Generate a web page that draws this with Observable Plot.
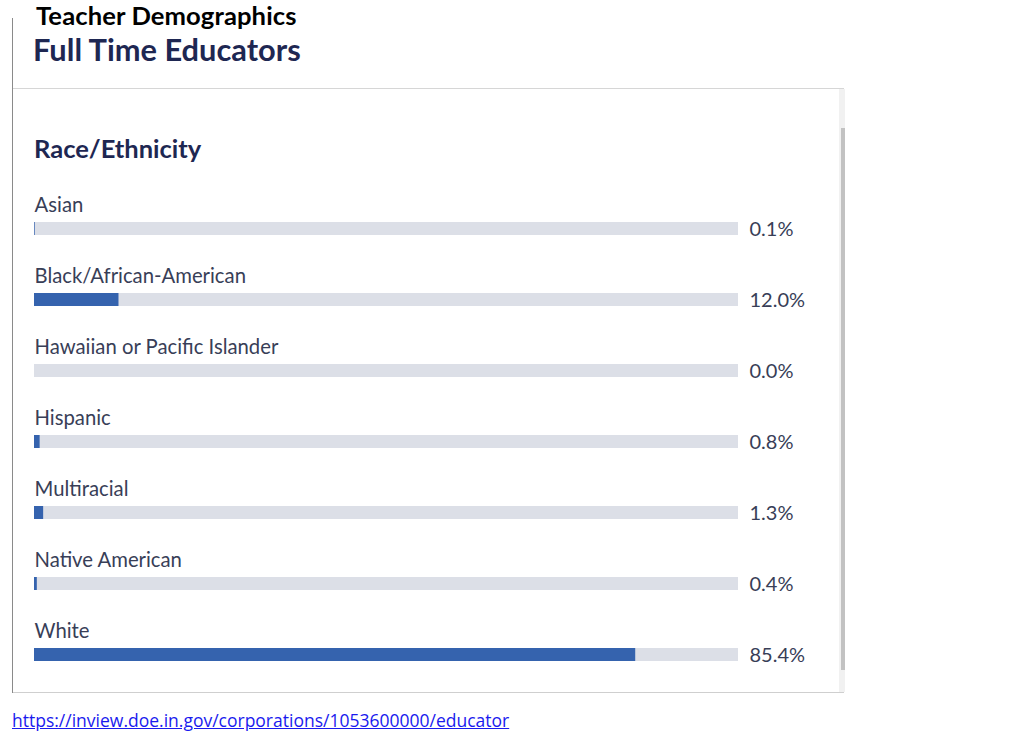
<!DOCTYPE html>
<html><head><meta charset="utf-8">
<script src="https://cdn.jsdelivr.net/npm/d3@7"></script>
<script src="https://cdn.jsdelivr.net/npm/@observablehq/plot@0.6"></script>
<style>
body{margin:0;background:#fff;width:1024px;height:743px;overflow:hidden;position:relative;font-family:Lato,sans-serif;}
.abs{position:absolute;white-space:nowrap;line-height:1;}
#t1{left:36px;top:2.5px;font-family:Lato,sans-serif;font-weight:bold;font-size:25.6px;color:#000;letter-spacing:0.1px}
#t2{left:33px;top:34.5px;font-size:30.8px;font-weight:bold;color:#1e2752;}
#t3{left:34px;top:136px;font-size:25.5px;font-weight:bold;color:#1e2752;}
#link{left:12px;top:710px;font-family:"Open Sans",sans-serif;font-size:17.5px;color:#1a1aee;text-decoration:underline;line-height:1.2;}
#chart{position:absolute;left:0;top:0;}
.ln{position:absolute;}
</style></head><body>
<div id="chart"></div>
<div class="ln" style="left:12px;top:18px;width:1px;height:675px;background:#8a8a8a"></div>
<div class="ln" style="left:13px;top:88px;width:831px;height:1px;background:#d6d6d6"></div>
<div class="ln" style="left:13px;top:692px;width:831px;height:1px;background:#cfcfcf"></div>
<div class="ln" style="left:839px;top:89px;width:6px;height:603px;background:#f1f1f1"></div>
<div class="ln" style="left:841px;top:128px;width:4px;height:542px;background:#c2c2c2"></div>
<div class="abs" id="t1">Teacher Demographics</div>
<div class="abs" id="t2">Full Time Educators</div>
<div class="abs" id="t3">Race/Ethnicity</div>
<div class="abs" id="link">https://inview.doe.in.gov/corporations/1053600000/educator</div>
<script>
const categories = ["Asian","Black/African-American","Hawaiian or Pacific Islander","Hispanic","Multiracial","Native American","White"];
const values = [0.1, 12.0, 0.0, 0.8, 1.3, 0.4, 85.4];
const data = categories.map((c,i)=>({category:c, value:values[i]}));

const chart = Plot.plot({
  width: 1024,
  height: 743,
  marginLeft: 34,
  marginRight: 286,
  marginTop: 193,
  marginBottom: 53,
  x: {domain:[0,100], axis:null},
  y: {domain:categories, axis:null, padding:0},
  style: {fontFamily:"Lato, sans-serif", background:"transparent"},
  marks: [
    Plot.barX(data, {x1:0, x2:100, y:"category", fill:"#dcdfe7", insetTop:29, insetBottom:29}),
    Plot.barX(data, {x1:0, x2:"value", y:"category", fill:"#3563ae", insetTop:29, insetBottom:29}),
    Plot.ruleX(data, {x:0, y:"category", stroke:"#3563ae", strokeWidth:1.2, insetTop:29, insetBottom:29}),
    Plot.text(data, {x:0, y:"category", text:"category", textAnchor:"start", dy:-24, fontSize:20.3, fill:"#383e57"}),
    Plot.text(data, {x:100, y:"category", text:d=>d.value.toFixed(1)+"%", textAnchor:"start", dx:11, dy:1, fontSize:20, fill:"#383e57"})
  ]
});
document.getElementById("chart").appendChild(chart);
</script>
</body></html>
